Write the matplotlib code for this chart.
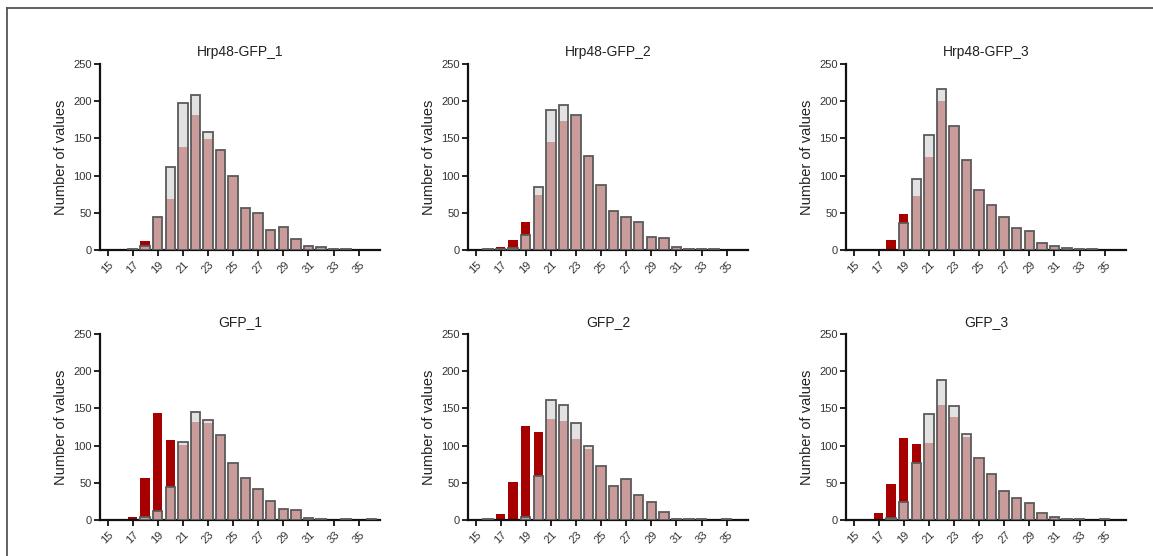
import matplotlib
matplotlib.use("Agg")
import matplotlib.pyplot as plt
from matplotlib.lines import Line2D

plt.rcParams['font.family'] = ['Liberation Sans', 'DejaVu Sans']

# Histogram bins (bin centres) and counts per sample
bins = list(range(15, 37))
xticks = list(range(15, 36, 2))
titles = ["Hrp48-GFP_1", "Hrp48-GFP_2", "Hrp48-GFP_3", "GFP_1", "GFP_2", "GFP_3"]

#            15 16 17  18  19   20   21   22   23   24   25  26  27  28  29  30 31 32 33 34 35 36
hrp1_gray = [0, 0, 2, 6, 45, 112, 197, 209, 159, 135, 100, 57, 50, 27, 31, 15, 6, 4, 1, 2, 0, 0]
hrp1_red  = [0, 0, 1, 12, 45, 68, 139, 182, 149, 134, 99, 57, 50, 27, 31, 15, 6, 4, 1, 1, 0, 0]
hrp2_gray = [0, 1, 1, 3, 20, 85, 188, 195, 182, 127, 88, 53, 45, 37, 17, 16, 4, 2, 1, 1, 0, 0]
hrp2_red  = [0, 1, 4, 13, 38, 74, 145, 174, 182, 127, 88, 53, 45, 37, 17, 16, 3, 2, 1, 1, 0, 0]
hrp3_gray = [0, 0, 0, 0, 36, 95, 155, 217, 166, 121, 80, 61, 45, 30, 25, 10, 5, 3, 1, 1, 0, 0]
hrp3_red  = [0, 0, 0, 13, 48, 73, 125, 200, 166, 121, 80, 61, 45, 30, 25, 10, 5, 2, 1, 1, 0, 0]
gfp1_gray = [0, 0, 0, 4, 12, 44, 105, 145, 134, 114, 77, 56, 42, 25, 15, 13, 3, 1, 0, 1, 0, 1]
gfp1_red  = [0, 0, 4, 57, 144, 107, 101, 132, 130, 113, 76, 56, 42, 25, 15, 13, 2, 1, 0, 1, 0, 1]
gfp2_gray = [0, 1, 0, 0, 4, 59, 161, 154, 131, 100, 73, 46, 55, 34, 24, 11, 2, 1, 1, 0, 1, 0]
gfp2_red  = [0, 0, 8, 51, 127, 118, 136, 133, 109, 95, 73, 46, 55, 34, 24, 11, 2, 1, 1, 0, 1, 0]
gfp3_gray = [0, 0, 0, 3, 24, 76, 142, 188, 153, 115, 84, 62, 39, 29, 23, 9, 4, 2, 1, 0, 1, 0]
gfp3_red  = [0, 0, 10, 48, 110, 102, 104, 155, 138, 112, 82, 62, 39, 29, 23, 8, 4, 2, 1, 0, 1, 0]

gray_counts = [hrp1_gray, hrp2_gray, hrp3_gray, gfp1_gray, gfp2_gray, gfp3_gray]
red_counts = [hrp1_red, hrp2_red, hrp3_red, gfp1_red, gfp2_red, gfp3_red]

W, H = 1153, 556
fig = plt.figure(figsize=(W / 100, H / 100), dpi=100)

# frame along the top and left of the figure
fig.add_artist(Line2D([7 / W, 7 / W], [0, 1 - 8 / H], transform=fig.transFigure,
                      color="#555555", lw=1.3))
fig.add_artist(Line2D([7 / W, 1], [1 - 8 / H, 1 - 8 / H], transform=fig.transFigure,
                      color="#555555", lw=1.3))

lefts = [100, 468, 846]
row_bottoms = [250, 520]
ax_w = 280
ax_h = 186

red = "#a70000"
gray_face = (216 / 255, 216 / 255, 216 / 255, 0.72)
edge = "#5a5a5a"

for i in range(6):
    r, c = divmod(i, 3)
    x0 = lefts[c] / W
    y0 = (H - row_bottoms[r]) / H
    ax = fig.add_axes([x0, y0, ax_w / W, ax_h / H])
    ax.bar(bins, red_counts[i], width=0.75, color=red, linewidth=0, zorder=2)
    g = gray_counts[i]
    gb = [b for b, v in zip(bins, g) if v > 0]
    gv = [v for v in g if v > 0]
    ax.bar(gb, gv, width=0.75, facecolor=gray_face, edgecolor=edge,
           linewidth=1.3, zorder=3)
    ax.set_xlim(14.4, 36.7)
    ax.set_ylim(0, 250)
    ax.set_xticks(xticks)
    ax.set_xticklabels([str(t) for t in xticks], rotation=45, ha="center",
                       fontsize=8, color="#333333")
    ax.set_yticks([0, 50, 100, 150, 200, 250])
    ax.set_yticklabels(["0", "50", "100", "150", "200", "250"], fontsize=8,
                       color="#333333")
    ax.tick_params(axis="both", length=4, width=1.3, color="#111111", pad=2)
    ax.tick_params(axis="x", pad=3)
    for s in ["top", "right"]:
        ax.spines[s].set_visible(False)
    for s in ["left", "bottom"]:
        ax.spines[s].set_linewidth(1.6)
        ax.spines[s].set_color("#111111")
    ax.set_ylabel("Number of values", fontsize=10.5, color="#222222", labelpad=4)
    ax.set_title(titles[i], fontsize=10, color="#222222", pad=6)

fig.savefig("out.png", dpi=100)
